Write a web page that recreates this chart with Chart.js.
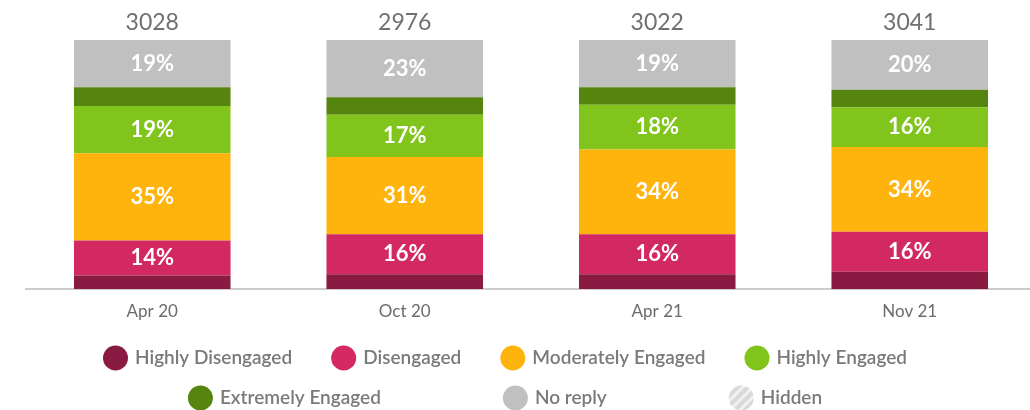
<!DOCTYPE html>
<html>
<head>
<meta charset="utf-8">
<title>Engagement</title>
<script src="https://cdn.jsdelivr.net/npm/chart.js@4.4.1/dist/chart.umd.min.js"></script>
<style>
  html, body { margin: 0; padding: 0; background: #fff; overflow: hidden; }
  canvas { display: block; }
</style>
</head>
<body>
<canvas id="engagementChart" width="1042" height="410"></canvas>
<script>
// survey waves and number of replies per wave
const periods = ["Apr 20", "Oct 20", "Apr 21", "Nov 21"];
const responses = [3028, 2976, 3022, 3041];

// share of people per level (%)
const highlyDisengaged = [5.5, 6, 6, 7];
const disengaged = [14, 16, 16, 16];
const moderatelyEngaged = [35, 31, 34, 34];
const highlyEngaged = [19, 17, 18, 16];
const extremelyEngaged = [7.5, 7, 7, 7];
const noReply = [19, 23, 19, 20];

function hatchPattern() {
    const tile = document.createElement("canvas");
    tile.width = 10;
    tile.height = 10;
    const p = tile.getContext("2d");
    p.fillStyle = "#d9d9d9";
    p.fillRect(0, 0, 10, 10);
    p.strokeStyle = "#f2f2f2";
    p.lineWidth = 3;
    p.beginPath();
    p.moveTo(-2, 12); p.lineTo(12, -2);
    p.moveTo(-2, 2); p.lineTo(2, -2);
    p.moveTo(8, 12); p.lineTo(12, 8);
    p.stroke();
    return p.createPattern(tile, "repeat");
}

// white % text inside segments + reply count above every bar
const barText = {
    id: "barText",
    afterDatasetsDraw(chart) {
        const ctx = chart.ctx;
        ctx.save();
        ctx.textAlign = "center";
        ctx.textBaseline = "middle";
        ctx.font = "bold 22px Lato";
        ctx.fillStyle = "#ffffff";
        chart.data.datasets.forEach((ds, i) => {
            if (!ds.showValue) return;
            chart.getDatasetMeta(i).data.forEach((bar, j) => {
                ctx.fillText(ds.data[j] + "%", bar.x, (bar.y + bar.base) / 2);
            });
        });
        ctx.font = "23px Lato";
        ctx.fillStyle = "#707070";
        chart.getDatasetMeta(5).data.forEach((bar, j) => {
            ctx.fillText(responses[j], bar.x, bar.y - 17);
        });
        ctx.restore();
    }
};

// legend in two centred rows
const rowLegend = {
    id: "rowLegend",
    afterDraw(chart, args, opts) {
        const ctx = chart.ctx;
        ctx.save();
        ctx.font = opts.font;
        ctx.textBaseline = "middle";
        opts.rows.forEach((row, r) => {
            const items = row.map((i) => chart.data.datasets[i]);
            const widths = items.map((ds) => opts.box + opts.textGap + ctx.measureText(ds.label).width);
            const total = widths.reduce((a, b) => a + b, 0) + opts.gaps[r] * (items.length - 1);
            let x = opts.centerX - total / 2;
            const y = opts.rowY[r];
            items.forEach((ds, k) => {
                ctx.fillStyle = ds.backgroundColor;
                ctx.beginPath();
                ctx.arc(x + opts.box / 2, y, opts.box / 2, 0, Math.PI * 2);
                ctx.fill();
                ctx.fillStyle = opts.color;
                ctx.fillText(ds.label, x + opts.box + opts.textGap, y);
                x += widths[k] + opts.gaps[r];
            });
        });
        ctx.restore();
    }
};

new Chart(document.getElementById("engagementChart"), {
    type: "bar",
    data: {
        labels: periods,
        datasets: [
            { label: "Highly Disengaged", data: highlyDisengaged, backgroundColor: "#891a42" },
            { label: "Disengaged", data: disengaged, backgroundColor: "#d22962", showValue: true },
            { label: "Moderately Engaged", data: moderatelyEngaged, backgroundColor: "#ffb30d", showValue: true },
            { label: "Highly Engaged", data: highlyEngaged, backgroundColor: "#80c41c", showValue: true },
            { label: "Extremely Engaged", data: extremelyEngaged, backgroundColor: "#55840f" },
            { label: "No reply", data: noReply, backgroundColor: "#c0c0c0", showValue: true },
            { label: "Hidden", data: [], backgroundColor: hatchPattern() }
        ]
    },
    options: {
        responsive: false,
        animation: false,
        events: [],
        barPercentage: 0.62,
        categoryPercentage: 1,
        layout: { padding: { top: 40, left: 26, right: 6, bottom: 84.5 } },
        scales: {
            x: {
                stacked: true,
                grid: { display: false },
                border: { color: "#cccccc", width: 2 },
                ticks: { color: "#6b6b6b", font: { family: "Lato", size: 17 }, padding: 4, maxRotation: 0 }
            },
            y: { stacked: true, display: false, min: 0, max: 100 }
        },
        plugins: {
            legend: { display: false },
            tooltip: { enabled: false },
            rowLegend: {
                rows: [[0, 1, 2, 3], [4, 5, 6]],
                gaps: [39, 122],
                rowY: [358, 398],
                centerX: 505,
                box: 25,
                textGap: 7,
                font: "600 19px Lato",
                color: "#7a7a7a"
            }
        }
    },
    plugins: [barText, rowLegend]
});
</script>
</body>
</html>
